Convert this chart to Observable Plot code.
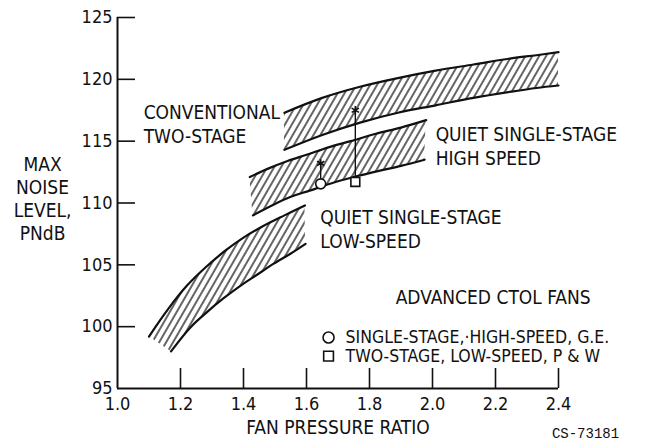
<!DOCTYPE html>
<html>
<head>
<meta charset="utf-8">
<script src="https://cdn.jsdelivr.net/npm/d3@7"></script>
<script src="https://cdn.jsdelivr.net/npm/@observablehq/plot@0.6"></script>
<style>
  html, body { margin: 0; padding: 0; background: #fff; }
  svg { display: block; }
</style>
</head>
<body>
<div id="chart"></div>
<script>
// ---- Data ----
const xTicks = [1.0, 1.2, 1.4, 1.6, 1.8, 2.0, 2.2, 2.4];
const yTicks = [95, 100, 105, 110, 115, 120, 125];

// Conventional two-stage band [fan pressure ratio, PNdB]
const conventionalUpper = [[1.53,117.3],[1.65,118.5],[1.77,119.4],[1.89,120.1],[2.01,120.7],[2.13,121.2],[2.25,121.7],[2.33,121.95],[2.40,122.2]];
const conventionalLower = [[1.53,114.3],[1.65,115.5],[1.77,116.5],[1.89,117.3],[2.01,117.9],[2.13,118.5],[2.25,119.0],[2.33,119.3],[2.40,119.5]];

// Quiet single-stage high speed band
const highSpeedUpper = [[1.42,112.1],[1.48,112.8],[1.54,113.4],[1.60,113.9],[1.67,114.5],[1.74,115.0],[1.82,115.6],[1.90,116.1],[1.98,116.7]];
const highSpeedLower = [[1.43,109.0],[1.49,109.8],[1.55,110.5],[1.61,111.0],[1.68,111.6],[1.75,112.1],[1.83,112.6],[1.90,113.0],[1.975,113.5]];

// Quiet single-stage low-speed band
const lowSpeedUpper = [[1.10,99.2],[1.16,101.4],[1.22,103.3],[1.28,104.8],[1.34,106.1],[1.40,107.2],[1.46,108.1],[1.53,109.0],[1.595,109.8]];
const lowSpeedLower = [[1.17,98.0],[1.23,99.9],[1.285,101.2],[1.337,102.3],[1.39,103.3],[1.443,104.2],[1.496,105.1],[1.549,105.9],[1.597,106.7]];

// Advanced CTOL fans: measured level and upper arrow level
const fanPoints = [
  {name: "SINGLE-STAGE, HIGH-SPEED, G.E.", symbol: "circle", x: 1.645, y: 111.55, yTop: 113.2},
  {name: "TWO-STAGE, LOW-SPEED, P & W", symbol: "square", x: 1.755, y: 111.7, yTop: 117.5}
];

const bandLabels = [
  {x: 1.083, y: 116.42, text: "CONVENTIONAL\nTWO-STAGE"},
  {x: 2.010, y: 114.64, text: "QUIET SINGLE-STAGE\nHIGH SPEED"},
  {x: 1.644, y: 107.98, text: "QUIET SINGLE-STAGE\nLOW-SPEED"}
];

const legendTitle = "ADVANCED CTOL FANS";
const legendRows = [
  {symbol: "circle", label: "SINGLE-STAGE,\u00B7HIGH-SPEED, G.E.", x: 1.670, y: 99.12},
  {symbol: "square", label: "TWO-STAGE, LOW-SPEED, P & W", x: 1.670, y: 97.62}
];

const FONT = "'Liberation Sans Narrow', 'DejaVu Sans Condensed', 'Arial Narrow', sans-serif";
const INK = "#111";

function bandArea(upper, lower) {
  return Plot.area(d3.range(upper.length), {
    x1: i => lower[i][0], y1: i => lower[i][1],
    x2: i => upper[i][0], y2: i => upper[i][1],
    fill: "url(#hatch)", stroke: "none", curve: "catmull-rom"
  });
}
function edge(pts) {
  return Plot.line(pts, {x: d => d[0], y: d => d[1], stroke: INK, strokeWidth: 2.2, curve: "catmull-rom"});
}

const svg = Plot.plot({
  width: 648,
  height: 448,
  marginLeft: 117,
  marginRight: 90,
  marginTop: 17,
  marginBottom: 60,
  style: {fontFamily: FONT, fontSize: "19px", color: INK, background: "#fff"},
  x: {domain: [1.0, 2.4]},
  y: {domain: [95, 125]},
  marks: [
    bandArea(conventionalUpper, conventionalLower),
    bandArea(highSpeedUpper, highSpeedLower),
    bandArea(lowSpeedUpper, lowSpeedLower),
    edge(conventionalUpper), edge(conventionalLower),
    edge(highSpeedUpper), edge(highSpeedLower),
    edge(lowSpeedUpper), edge(lowSpeedLower),

    // axes
    Plot.ruleX([1.0], {stroke: INK, strokeWidth: 2}),
    Plot.ruleY([95], {stroke: INK, strokeWidth: 2}),
    Plot.ruleX(xTicks.slice(1), {stroke: INK, strokeWidth: 1.6, insetTop: 351}),
    Plot.ruleY(yTicks.slice(1), {stroke: INK, strokeWidth: 1.6, insetRight: 423}),
    Plot.axisX(xTicks, {tickSize: 0, tickPadding: 9, tickFormat: d3.format(".1f"), label: null, fontSize: 18}),
    Plot.axisY(yTicks, {tickSize: 0, tickPadding: 5, label: null, fontSize: 18}),
    Plot.text(["FAN PRESSURE RATIO"], {frameAnchor: "bottom", dy: 45, fontSize: 19}),
    Plot.text(["MAX\nNOISE\nLEVEL,\nPNdB"], {x: 0.762, y: 110.4, lineHeight: 1.2, fontSize: 19}),
    Plot.text(["CS-73181"], {frameAnchor: "bottom-right", dx: 27, dy: 49, textAnchor: "middle", fontFamily: "'Liberation Mono', 'DejaVu Sans Mono', monospace", fontSize: 14}),

    // fan data points
    Plot.ruleX(fanPoints, {x: "x", y1: "y", y2: "yTop", stroke: INK, strokeWidth: 1.4}),
    Plot.dot(fanPoints, {x: "x", y: "yTop", symbol: "asterisk", r: 4, stroke: INK, strokeWidth: 1.6}),
    Plot.dot(fanPoints, {x: "x", y: "y", symbol: "symbol", r: 5, stroke: INK, strokeWidth: 1.6, fill: "#fff"}),

    // band labels
    Plot.text(bandLabels, {x: "x", y: "y", text: "text", textAnchor: "start", lineAnchor: "middle", lineHeight: 1.27, fontSize: 19}),

    // legend
    Plot.text([legendTitle], {x: 1.883, y: 102.36, textAnchor: "start", fontSize: 19}),
    Plot.dot(legendRows, {x: "x", y: "y", symbol: "symbol", r: 5.5, stroke: INK, strokeWidth: 1.6, fill: "#fff"}),
    Plot.text(legendRows, {x: "x", y: "y", text: "label", textAnchor: "start", dx: 17, fontSize: 17.5})
  ]
});

// Diagonal hatch pattern used by the bands
const defs = d3.select(svg).insert("defs", ":first-child");
const pat = defs.append("pattern")
  .attr("id", "hatch")
  .attr("patternUnits", "userSpaceOnUse")
  .attr("width", 6).attr("height", 6)
  .attr("patternTransform", "rotate(30)");
pat.append("line")
  .attr("x1", 3).attr("y1", -1).attr("x2", 3).attr("y2", 7)
  .attr("stroke", INK).attr("stroke-width", 1.3);

document.getElementById("chart").appendChild(svg);
</script>
</body>
</html>
